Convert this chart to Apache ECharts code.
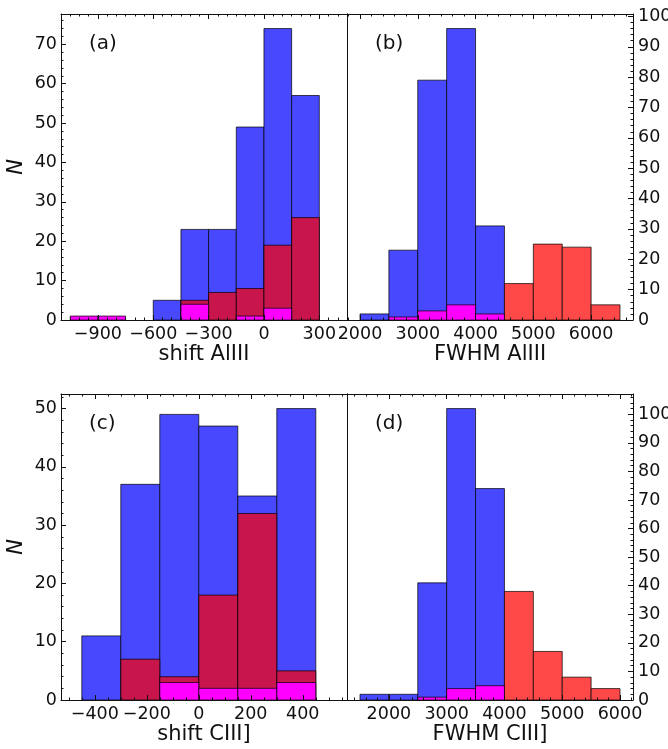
<!DOCTYPE html>
<html>
<head>
<meta charset="utf-8">
<script src="https://cdn.jsdelivr.net/npm/echarts@6/dist/echarts.min.js"></script>
<style>
html,body{margin:0;padding:0;background:#fff;}
#chart{width:668px;height:749px;}
</style>
</head>
<body>
<div id="chart"></div>
<script>
// ---- Data (histogram bin starts and counts) ----
const binsA = [-1050, -900, -750, -600, -450, -300, -150, 0, 150];
const widthA = 150;
const blueA = [0, 0, 0, 5, 23, 23, 49, 74, 57];
const redA  = [0, 0, 0, 0, 5, 7, 8, 19, 26];
const magA  = [1, 1, 0, 0, 4, 0, 1, 3, 0];

const binsB = [2000, 2500, 3000, 3500, 4000, 4500, 5000, 5500, 6000];
const widthB = 500;
const blueB = [2, 23, 79, 96, 31, 0, 0, 0, 0];
const redB  = [0, 0, 0, 0, 0, 12, 25, 24, 5];
const magB  = [0, 1, 3, 5, 2, 0, 0, 0, 0];

const binsC = [-450, -300, -150, 0, 150, 300];
const widthC = 150;
const blueC = [11, 37, 49, 47, 35, 50];
const redC  = [0, 7, 4, 18, 32, 5];
const magC  = [0, 0, 3, 2, 2, 3];

const binsD = [1500, 2000, 2500, 3000, 3500, 4000, 4500, 5000, 5500];
const widthD = 500;
const blueD = [2, 2, 41, 102, 74, 0, 0, 0, 0];
const redD  = [0, 0, 0, 0, 0, 38, 17, 8, 4];
const magD  = [0, 0, 1, 4, 5, 0, 0, 0, 0];

// tick labels
const xTicksA = [-900, -600, -300, 0, 300];
const xTicksB = [2000, 3000, 4000, 5000, 6000];
const xTicksC = [-400, -200, 0, 200, 400];
const xTicksD = [2000, 3000, 4000, 5000, 6000];
const yTicksA = [0, 10, 20, 30, 40, 50, 60, 70];
const yTicksB = [0, 10, 20, 30, 40, 50, 60, 70, 80, 90, 100];
const yTicksC = [0, 10, 20, 30, 40, 50];
const yTicksD = [0, 10, 20, 30, 40, 50, 60, 70, 80, 90, 100];

const xLabels = ['shift AlIII', 'FWHM AlIII', 'shift CIII]', 'FWHM CIII]'];
const panelLabels = ['(a)', '(b)', '(c)', '(d)'];

// ---- helpers ----
function range(a, b, s) { const r = []; for (let v = a; v <= b + 1e-9; v += s) r.push(Math.round(v * 1000) / 1000); return r; }
const FONT = 'DejaVu Sans';
const TXT = '#111';
const LINE = { color: '#111', width: 1 };
const TICK = { color: '#111', width: 1 };
const TFS = 17.5;
const fmt = v => (v < 0 ? '\u2212' + Math.abs(v) : String(v));

const panels = [
  { grid: { left: 61, top: 14, width: 286, height: 306 }, xmin: -1100, xmax: 450, ymax: 77.7,
    xMaj: xTicksA, xMin: range(-1100, 450, 50), yMaj: yTicksA, yMin: range(0, 76, 2), ySide: 'left',
    bins: binsA, w: widthA, blue: blueA, red: redA, mag: magA },
  { grid: { left: 347, top: 14, width: 286, height: 306 }, xmin: 1775, xmax: 6725, ymax: 100.8,
    xMaj: xTicksB, xMin: range(1800, 6600, 200), yMaj: yTicksB, yMin: range(0, 100, 2), ySide: 'right',
    bins: binsB, w: widthB, blue: blueB, red: redB, mag: magB },
  { grid: { left: 61, top: 394, width: 286, height: 306 }, xmin: -530, xmax: 570, ymax: 52.5,
    xMaj: xTicksC, xMin: range(-500, 550, 50), yMaj: yTicksC, yMin: range(0, 52, 2), ySide: 'left',
    bins: binsC, w: widthC, blue: blueC, red: redC, mag: magC },
  { grid: { left: 347, top: 394, width: 286, height: 306 }, xmin: 1275, xmax: 6225, ymax: 107.1,
    xMaj: xTicksD, xMin: range(1400, 6200, 200), yMaj: yTicksD, yMin: range(0, 106, 2), ySide: 'right',
    bins: binsD, w: widthD, blue: blueD, red: redD, mag: magD }
];

const grids = [], xAxes = [], yAxes = [], series = [], graphics = [];
const noLine = { show: false, onZero: false };
const lineOn = { show: true, onZero: false, lineStyle: LINE };

panels.forEach((p, gi) => {
  grids.push(Object.assign({ containLabel: false, outerBoundsMode: 'none' }, p.grid));
  const xMainIdx = xAxes.length;
  const baseX = { gridIndex: gi, type: 'value', min: p.xmin, max: p.xmax, splitLine: { show: false } };
  const tickAx = (pos, vals, len) => Object.assign({}, baseX, {
    position: pos, axisLine: noLine, z: 5,
    axisTick: { show: true, inside: true, length: len, customValues: vals, lineStyle: TICK },
    axisLabel: { show: false }
  });
  xAxes.push(Object.assign({}, baseX, {
    position: 'bottom', axisLine: lineOn, axisTick: { show: false }, z: 6,
    axisLabel: { show: true, customValues: p.xMaj, formatter: fmt, fontFamily: FONT, fontSize: TFS, color: TXT, margin: 5 },
    name: xLabels[gi], nameLocation: 'middle', nameGap: 24,
    nameTextStyle: { fontFamily: FONT, fontSize: 21, color: TXT }
  }));
  xAxes.push(tickAx('bottom', p.xMaj, 5));
  xAxes.push(tickAx('bottom', p.xMin, 2.5));
  xAxes.push(Object.assign({}, baseX, {
    position: 'top', axisLine: lineOn, axisTick: { show: false }, axisLabel: { show: false }, z: 6
  }));
  xAxes.push(tickAx('top', p.xMaj, 5));
  xAxes.push(tickAx('top', p.xMin, 2.5));

  const yMainIdx = yAxes.length;
  const baseY = { gridIndex: gi, type: 'value', min: 0, max: p.ymax, splitLine: { show: false } };
  const tickSide = p.ySide;
  const plainSide = tickSide === 'left' ? 'right' : 'left';
  const tickAy = (pos, vals, len) => Object.assign({}, baseY, {
    position: pos, axisLine: noLine, z: 5,
    axisTick: { show: true, inside: true, length: len, customValues: vals, lineStyle: TICK },
    axisLabel: { show: false }
  });
  yAxes.push(Object.assign({}, baseY, {
    position: tickSide, axisLine: lineOn, axisTick: { show: false }, z: 6,
    axisLabel: { show: true, customValues: p.yMaj, fontFamily: FONT, fontSize: TFS, color: TXT, margin: tickSide === 'left' ? 4 : 5 },
    name: tickSide === 'left' ? 'N' : '', nameLocation: 'middle', nameGap: 34, nameRotate: 90,
    nameTextStyle: { fontFamily: FONT, fontSize: 21, fontStyle: 'italic', color: TXT }
  }));
  yAxes.push(tickAy(tickSide, p.yMaj, 5));
  yAxes.push(tickAy(tickSide, p.yMin, 2.5));
  yAxes.push(Object.assign({}, baseY, {
    position: plainSide, axisLine: lineOn, axisTick: { show: false }, axisLabel: { show: false }, z: 6
  }));

  const mk = (vals, color, name) => {
    const data = [];
    vals.forEach((v, i) => { if (v > 0) data.push([p.bins[i], p.bins[i] + p.w, v]); });
    return {
      type: 'custom', name: name, xAxisIndex: xMainIdx, yAxisIndex: yMainIdx,
      encode: { x: [0, 1], y: 2 }, data: data, silent: true, z: 1,
      renderItem: function (params, api) {
        const a = api.coord([api.value(0), 0]);
        const b = api.coord([api.value(1), api.value(2)]);
        return {
          type: 'rect',
          shape: { x: a[0], y: b[1], width: b[0] - a[0], height: a[1] - b[1] },
          style: { fill: color, stroke: 'rgba(0,0,0,0.7)', lineWidth: 1 }
        };
      }
    };
  };
  series.push(mk(p.blue, '#4848ff', 'all'));
  series.push(mk(p.red, p.ySide === 'left' ? '#c8164d' : '#ff4848', 'red'));
  series.push(mk(p.mag, '#ff00ff', 'mag'));

  graphics.push({
    type: 'text', left: p.grid.left + 28, top: p.grid.top + 20,
    style: { text: panelLabels[gi], font: '20px "DejaVu Sans"', fill: TXT }
  });
});

const chart = echarts.init(document.getElementById('chart'), null, { renderer: 'canvas' });
chart.setOption({
  animation: false,
  backgroundColor: '#fff',
  grid: grids,
  xAxis: xAxes,
  yAxis: yAxes,
  series: series,
  graphic: graphics
});
</script>
</body>
</html>
